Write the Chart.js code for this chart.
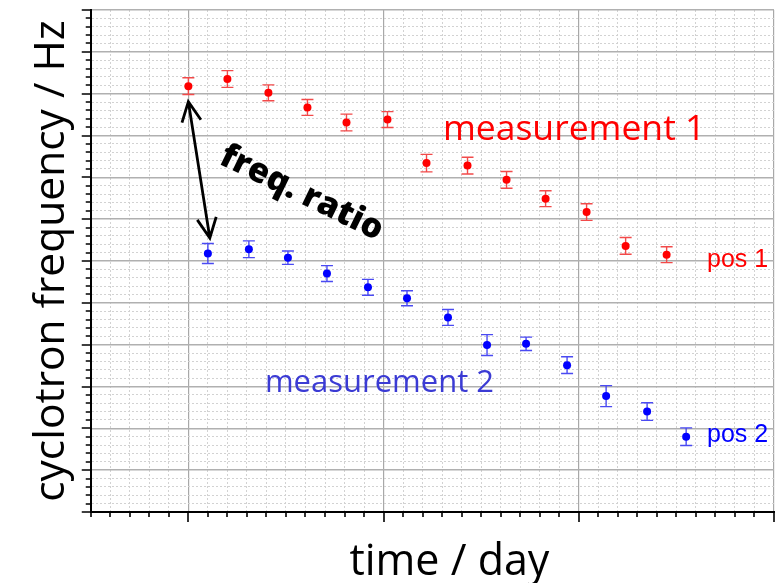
<!DOCTYPE html>
<html>
<head>
<meta charset="utf-8">
<script src="https://cdn.jsdelivr.net/npm/chart.js@4.4.0/dist/chart.umd.min.js"></script>
<style>
  html, body { margin: 0; padding: 0; background: #fff; }
  #wrap { width: 783px; height: 583px; }
</style>
</head>
<body>
<div id="wrap"><canvas id="freqChart"></canvas></div>
<script>
// measurement 1 (pos 1)
var redTime = [0, 0.2, 0.41, 0.61, 0.81, 1.02, 1.22, 1.43, 1.63, 1.83, 2.04, 2.24, 2.45];
var redFreq = [10.18, 10.35, 10.02, 9.67, 9.31, 9.38, 8.34, 8.28, 7.94, 7.49, 7.17, 6.36, 6.15];
var redErr = [0.2, 0.2, 0.19, 0.19, 0.2, 0.19, 0.21, 0.2, 0.2, 0.19, 0.2, 0.2, 0.19];

// measurement 2 (pos 2)
var blueTime = [0.10, 0.31, 0.51, 0.71, 0.92, 1.12, 1.33, 1.53, 1.73, 1.94, 2.14, 2.35, 2.55];
var blueFreq = [6.18, 6.28, 6.08, 5.70, 5.37, 5.11, 4.65, 3.99, 4.02, 3.51, 2.77, 2.40, 1.80];
var blueErr = [0.24, 0.2, 0.16, 0.19, 0.19, 0.18, 0.19, 0.25, 0.16, 0.2, 0.25, 0.21, 0.21];

// axis ranges (no tick labels on the original)
var xRange = [-0.5, 3];
var yRange = [0, 12];

var xTitleFont = "43px 'Open Sans'";

function toPoints(xs, ys) {
	var pts = [];
	xs.forEach((v, i) => pts.push({x: v, y: ys[i]}));
	return pts;
}

function isMajor(v) {
	return Math.abs(v - Math.round(v)) < 1e-6;
}

// vertical error bars with caps
const errorBars = {
	id: "errorBars",
	beforeDatasetsDraw(chart) {
		const ctx = chart.ctx;
		const xs = chart.scales.x, ys = chart.scales.y;
		chart.data.datasets.forEach(ds => {
			ctx.save();
			ctx.strokeStyle = ds.errorColor;
			ctx.lineWidth = 1.4;
			ds.data.forEach((p, j) => {
				const px = xs.getPixelForValue(p.x);
				const top = ys.getPixelForValue(p.y + ds.errors[j]);
				const bot = ys.getPixelForValue(p.y - ds.errors[j]);
				ctx.beginPath();
				ctx.moveTo(px, top); ctx.lineTo(px, bot);
				ctx.moveTo(px - 6, top); ctx.lineTo(px + 6, top);
				ctx.moveTo(px - 6, bot); ctx.lineTo(px + 6, bot);
				ctx.stroke();
			});
			ctx.restore();
		});
	}
};

// outward tick marks, long on whole numbers, short in between
const tickMarks = {
	id: "tickMarks",
	afterDraw(chart) {
		const ctx = chart.ctx;
		const xs = chart.scales.x, ys = chart.scales.y;
		const area = chart.chartArea;
		ctx.save();
		ctx.strokeStyle = "#000";
		ctx.lineWidth = 1.6;
		ctx.beginPath();
		xs.ticks.forEach(t => {
			const px = Math.round(xs.getPixelForValue(t.value));
			ctx.moveTo(px, area.bottom);
			ctx.lineTo(px, area.bottom + (isMajor(t.value) ? 10 : 5));
		});
		ys.ticks.forEach(t => {
			const py = Math.round(ys.getPixelForValue(t.value));
			ctx.moveTo(area.left, py);
			ctx.lineTo(area.left - (isMajor(t.value) ? 9 : 5), py);
		});
		ctx.stroke();

		// x title sits a little right of the plot centre on the original
		ctx.fillStyle = "#000";
		ctx.font = xTitleFont;
		ctx.textAlign = "center";
		ctx.textBaseline = "alphabetic";
		ctx.fillText("time / day", (area.left + area.right) / 2 + 17, 575);
		ctx.restore();
	}
};

function drawArrowHead(ctx, x0, y0, x1, y1, len) {
	const a = Math.atan2(y1 - y0, x1 - x0);
	ctx.moveTo(x1 + len * Math.cos(a + Math.PI - 0.45), y1 + len * Math.sin(a + Math.PI - 0.45));
	ctx.lineTo(x1, y1);
	ctx.lineTo(x1 + len * Math.cos(a + Math.PI + 0.45), y1 + len * Math.sin(a + Math.PI + 0.45));
}

// labels and the freq. ratio arrow, placed in data units
const notes = {
	id: "notes",
	afterDatasetsDraw(chart) {
		const ctx = chart.ctx;
		const xs = chart.scales.x, ys = chart.scales.y;
		const X = v => xs.getPixelForValue(v);
		const Y = v => ys.getPixelForValue(v);
		ctx.save();
		ctx.textBaseline = "alphabetic";
		ctx.textAlign = "left";

		ctx.fillStyle = "#ff0000";
		ctx.font = "35.5px 'Open Sans'";
		ctx.fillText("measurement 1", X(1.304), Y(8.89));
		ctx.font = "25px 'Liberation Sans'";
		ctx.fillText("pos 1", X(2.657), Y(5.86));

		ctx.fillStyle = "#3b3bd4";
		ctx.font = "31px 'Open Sans'";
		ctx.fillText("measurement 2", X(0.392), Y(2.876));
		ctx.fillStyle = "#0000ff";
		ctx.font = "25px 'Liberation Sans'";
		ctx.fillText("pos 2", X(2.657), Y(1.68));

		// double headed arrow
		const ax0 = X(0), ay0 = Y(9.81), ax1 = X(0.11), ay1 = Y(6.55);
		ctx.strokeStyle = "#000";
		ctx.lineWidth = 2.8;
		ctx.beginPath();
		ctx.moveTo(ax0, ay0); ctx.lineTo(ax1, ay1);
		drawArrowHead(ctx, ax0, ay0, ax1, ay1, 22);
		drawArrowHead(ctx, ax1, ay1, ax0, ay0, 22);
		ctx.stroke();

		ctx.translate(X(0.58), Y(7.62));
		ctx.rotate(26 * Math.PI / 180);
		ctx.fillStyle = "#000";
		ctx.font = "800 34px 'Open Sans'";
		ctx.textAlign = "center";
		ctx.textBaseline = "middle";
		ctx.fillText("freq. ratio", 0, 0);
		ctx.restore();
	}
};

const freqChart = new Chart(document.getElementById("freqChart"), {
	type: "scatter",
	data: {
		datasets: [
			{
				label: "measurement 1",
				data: toPoints(redTime, redFreq),
				errors: redErr,
				errorColor: "#f24a4a",
				backgroundColor: "#ff0000",
				borderColor: "#ff0000",
				pointRadius: 4,
				pointBorderWidth: 0
			},
			{
				label: "measurement 2",
				data: toPoints(blueTime, blueFreq),
				errors: blueErr,
				errorColor: "#4a4af2",
				backgroundColor: "#0000ff",
				borderColor: "#0000ff",
				pointRadius: 4,
				pointBorderWidth: 0
			}
		]
	},
	options: {
		responsive: true,
		maintainAspectRatio: false,
		animation: false,
		layout: {padding: {left: 26, top: 10, right: 9, bottom: 0}},
		plugins: {
			legend: {display: false},
			tooltip: {enabled: false}
		},
		scales: {
			x: {
				type: "linear",
				min: xRange[0],
				max: xRange[1],
				ticks: {display: false, stepSize: 0.1},
				grid: {
					color: c => isMajor(c.tick.value) ? "#a8a8a8" : "#d2d2d2",
					lineWidth: c => isMajor(c.tick.value) ? 1.2 : 1,
					tickLength: 10,
					tickColor: "rgba(0,0,0,0)"
				},
				border: {
					color: "#000",
					width: 2,
					dash: c => (c.tick && !isMajor(c.tick.value)) ? [2, 2] : []
				},
				title: {
					// space holder, the text itself is drawn by tickMarks
					display: true,
					text: "time / day",
					color: "rgba(0,0,0,0)",
					font: {family: "'Open Sans'", size: 43, lineHeight: 1},
					padding: {top: 18, bottom: 0}
				}
			},
			y: {
				type: "linear",
				min: yRange[0],
				max: yRange[1],
				ticks: {display: false, stepSize: 0.2},
				grid: {
					color: c => isMajor(c.tick.value) ? "#b0b0b0" : "#d2d2d2",
					lineWidth: c => isMajor(c.tick.value) ? 1.6 : 1,
					tickLength: 10,
					tickColor: "rgba(0,0,0,0)"
				},
				border: {
					color: "#000",
					width: 2,
					dash: c => (c.tick && !isMajor(c.tick.value)) ? [2, 2] : []
				},
				title: {
					display: true,
					text: "cyclotron frequency / Hz",
					color: "#000",
					font: {family: "'Open Sans'", size: 42.5, lineHeight: 1.1},
					padding: {top: 3, bottom: 5}
				}
			}
		}
	},
	plugins: [errorBars, tickMarks, notes]
});
</script>
</body>
</html>
